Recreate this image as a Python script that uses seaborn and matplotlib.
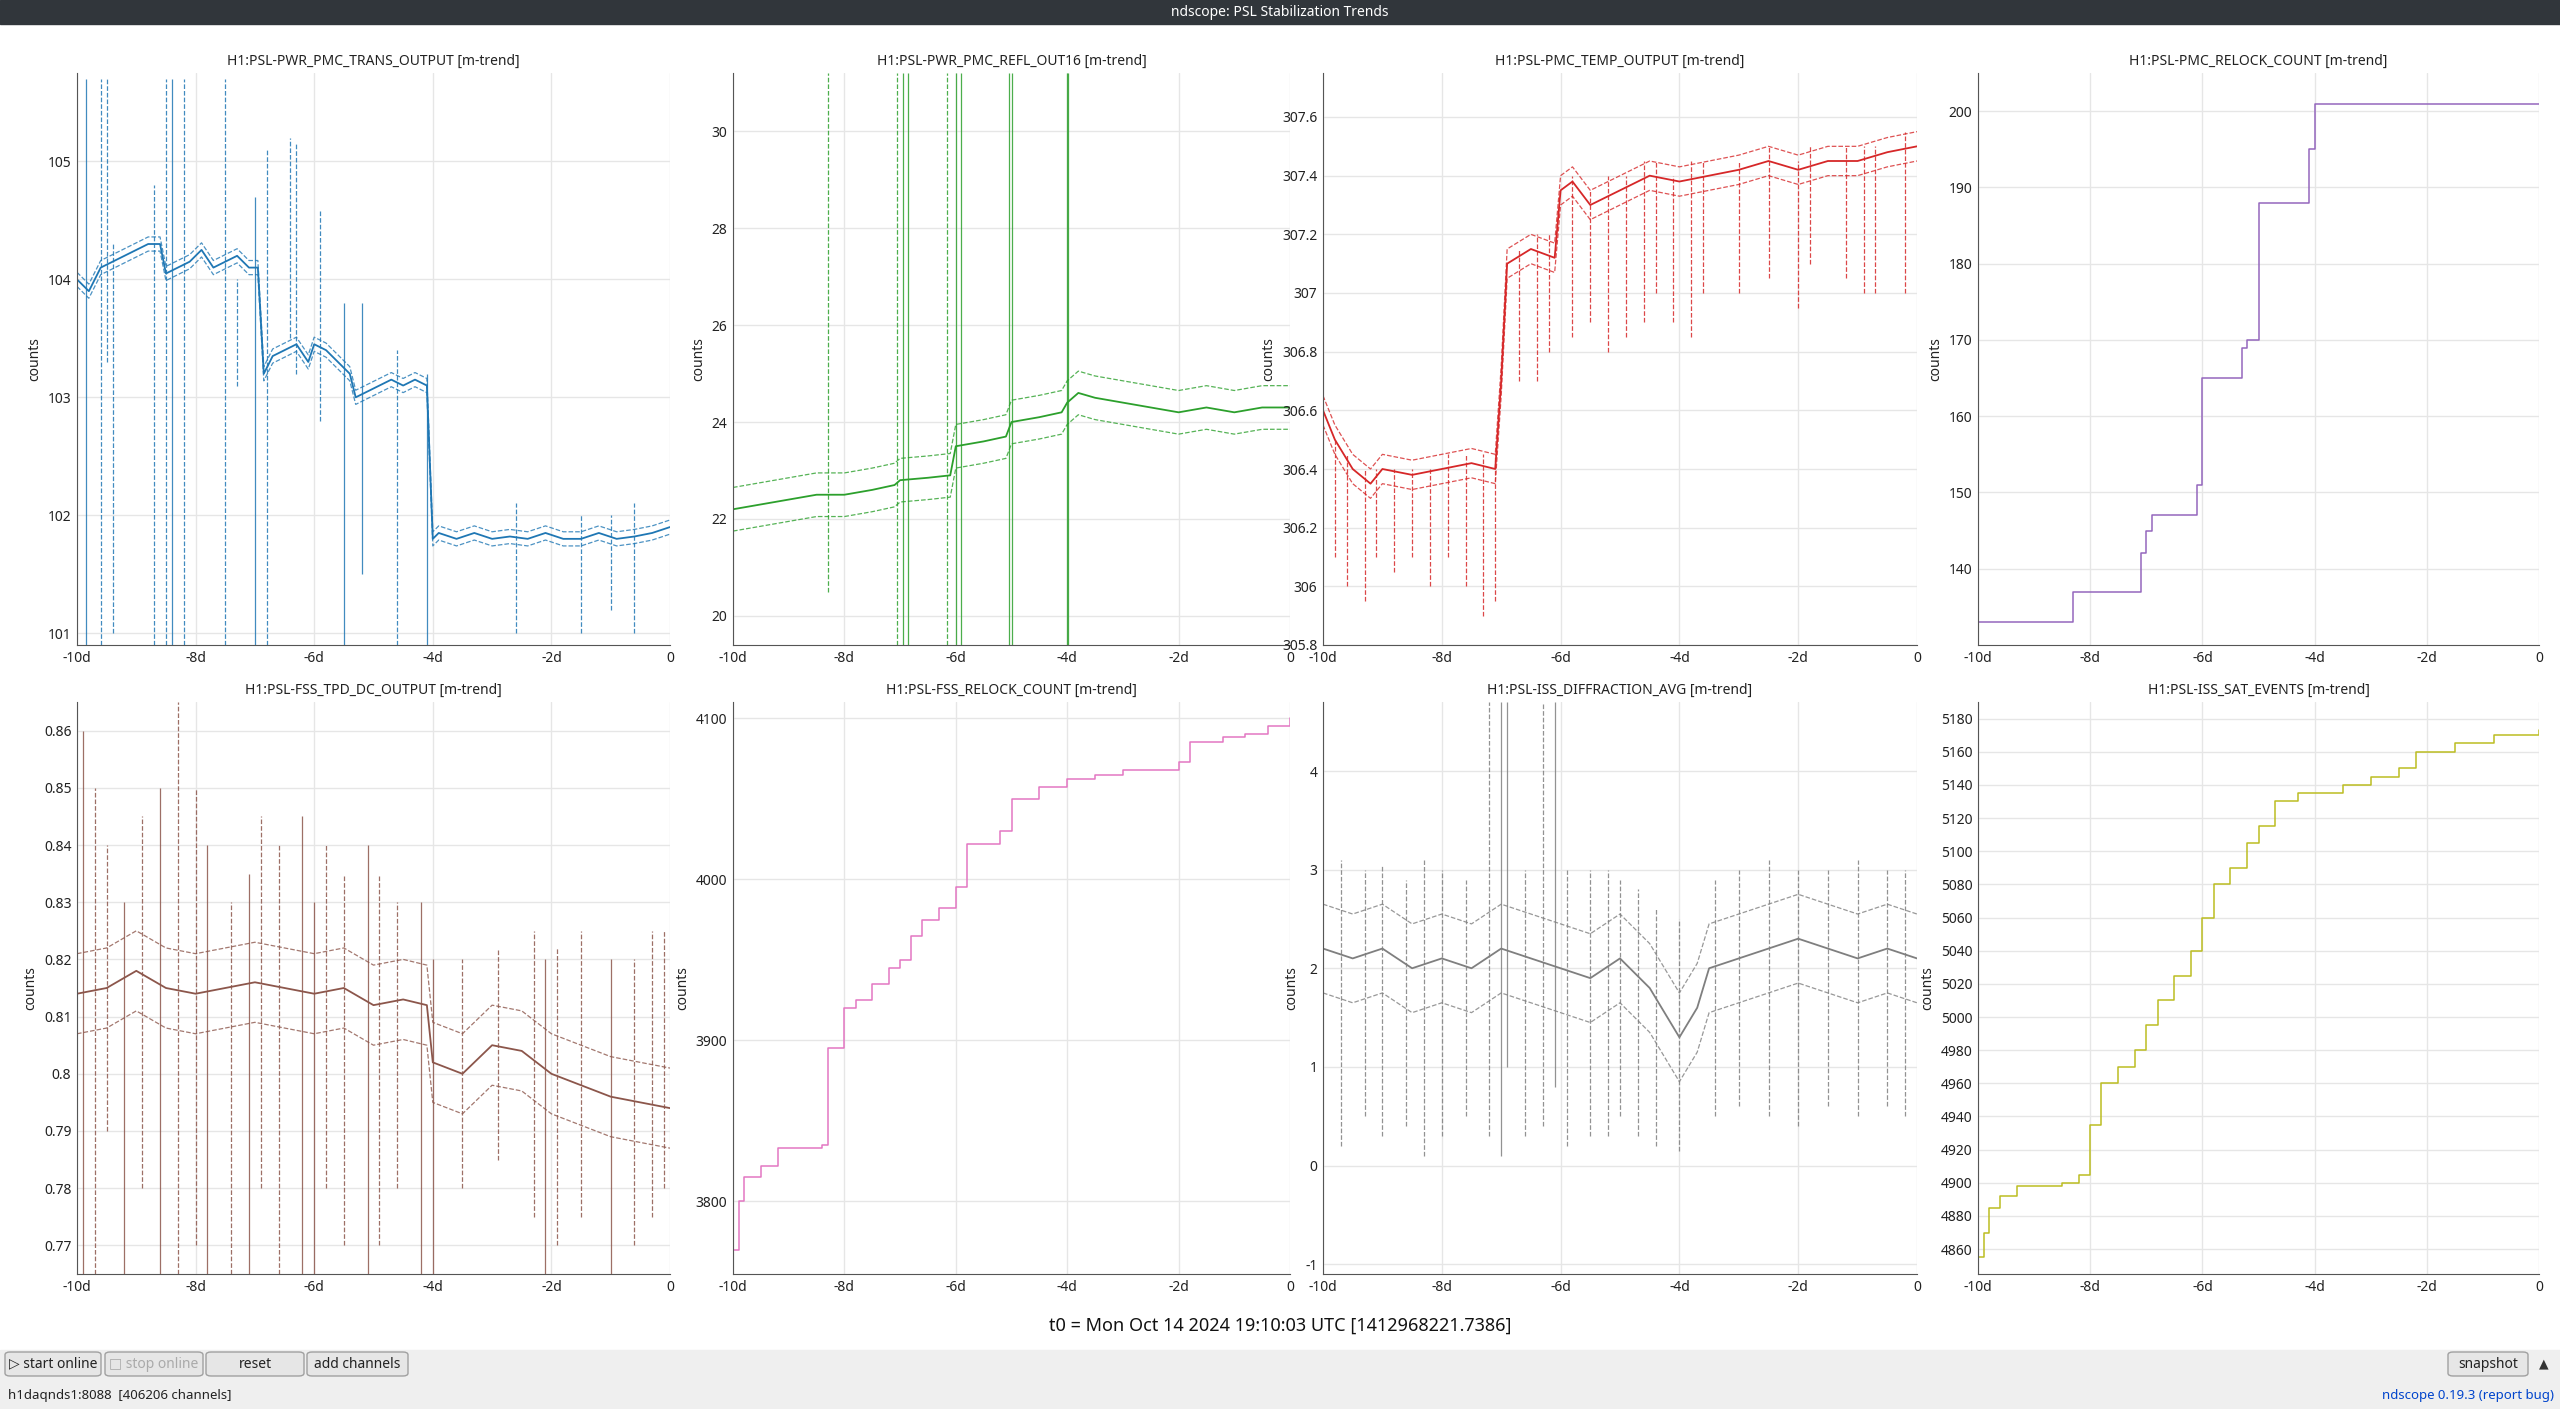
import numpy as np
import pandas as pd
import matplotlib
matplotlib.use("Agg")
import matplotlib.pyplot as plt
from matplotlib.patches import Rectangle, FancyBboxPatch
import seaborn as sns

sns.set_style("white")
plt.rcParams['font.family'] = ['Noto Sans', 'DejaVu Sans']

# ---------------- data ----------------
titles = ["H1:PSL-PWR_PMC_TRANS_OUTPUT [m-trend]", "H1:PSL-PWR_PMC_REFL_OUT16 [m-trend]",
          "H1:PSL-PMC_TEMP_OUTPUT [m-trend]", "H1:PSL-PMC_RELOCK_COUNT [m-trend]",
          "H1:PSL-FSS_TPD_DC_OUTPUT [m-trend]", "H1:PSL-FSS_RELOCK_COUNT [m-trend]",
          "H1:PSL-ISS_DIFFRACTION_AVG [m-trend]", "H1:PSL-ISS_SAT_EVENTS [m-trend]"]
colors = ["#1f77b4", "#2ca02c", "#d62728", "#9467bd", "#8c564b", "#e377c2", "#7f7f7f", "#bcbd22"]
xticks = [-10, -8, -6, -4, -2, 0]
xticklabels = ["-10d", "-8d", "-6d", "-4d", "-2d", "0"]

x1 = [-10,-9.8,-9.6,-9.4,-9.2,-9.0,-8.8,-8.6,-8.5,-8.3,-8.1,-7.9,-7.7,-7.5,-7.3,-7.1,-6.95,-6.85,-6.7,-6.5,
      -6.3,-6.1,-6.0,-5.8,-5.6,-5.4,-5.3,-5.1,-4.9,-4.7,-4.5,-4.3,-4.1,-4.0,-3.9,-3.6,-3.3,-3.0,-2.7,-2.4,
      -2.1,-1.8,-1.5,-1.2,-0.9,-0.6,-0.3,0]
mean1 = [104.0,103.9,104.1,104.15,104.2,104.25,104.3,104.3,104.05,104.1,104.15,104.25,104.1,104.15,104.2,104.1,104.1,103.2,103.35,103.4,
         103.45,103.3,103.45,103.4,103.3,103.2,103.0,103.05,103.1,103.15,103.1,103.15,103.1,101.8,101.85,101.8,101.85,101.8,101.82,101.8,
         101.85,101.8,101.8,101.85,101.8,101.82,101.85,101.9]
band1 = 0.06
spikes1 = [(-9.85,100.9,105.7,'-'),(-9.6,100.9,105.7,'--'),(-9.5,103.3,105.7,'--'),(-9.4,101.0,104.3,'--'),
           (-8.7,100.9,104.8,'--'),(-8.5,100.9,105.7,'--'),(-8.4,100.9,105.7,'-'),(-8.2,100.9,105.7,'--'),
           (-7.5,100.9,105.7,'--'),(-7.3,103.1,104.0,'--'),(-7.0,100.9,104.7,'-'),(-6.8,100.9,105.1,'--'),
           (-6.4,103.5,105.2,'--'),(-6.3,103.2,105.15,'--'),(-5.9,102.8,104.6,'--'),(-5.5,100.9,103.8,'-'),
           (-5.2,101.5,103.8,'-'),(-4.6,100.9,103.4,'--'),(-4.1,100.9,103.2,'-'),(-2.6,101.0,102.1,'--'),
           (-1.5,101.0,102.0,'--'),(-1.0,101.2,102.0,'--'),(-0.6,101.0,102.1,'--')]

x2 = [-10,-9.5,-9,-8.5,-8,-7.5,-7.1,-7.0,-6.5,-6.1,-6.0,-5.5,-5.1,-5.0,-4.5,-4.1,-4.0,-3.8,-3.5,-3,-2.5,-2,-1.5,-1,-0.5,0]
mean2 = [22.2,22.3,22.4,22.5,22.5,22.6,22.7,22.8,22.85,22.9,23.5,23.6,23.7,24.0,24.1,24.2,24.4,24.6,24.5,24.4,24.3,24.2,24.3,24.2,24.3,24.3]
band2 = 0.45
spikes2 = [(-6.95,19.4,31.2,'-'),(-6.85,19.4,31.2,'-'),(-6.0,19.4,31.2,'-'),(-5.9,19.4,31.2,'-'),
           (-5.05,19.4,31.2,'-'),(-5.0,19.4,31.2,'-'),(-4.0,19.4,31.2,'-'),(-3.98,19.4,31.2,'-'),
           (-8.3,20.5,31.2,'--'),(-7.05,19.4,31.2,'--'),(-6.15,19.4,31.2,'--')]

x3 = [-10,-9.8,-9.5,-9.2,-9,-8.5,-8,-7.5,-7.1,-7.0,-6.9,-6.5,-6.1,-6.0,-5.8,-5.5,-5.0,-4.5,-4.0,-3.5,-3.0,-2.5,-2.0,-1.5,-1.0,-0.5,0]
mean3 = [306.6,306.5,306.4,306.35,306.4,306.38,306.4,306.42,306.4,306.7,307.1,307.15,307.12,307.35,307.38,307.3,307.35,307.4,307.38,307.4,307.42,307.45,307.42,307.45,307.45,307.48,307.5]
band3 = 0.05
spikes3 = [(-9.8,306.1,306.5,'--'),(-9.6,306.0,306.45,'--'),(-9.3,305.95,306.4,'--'),(-9.1,306.1,306.4,'--'),
           (-8.8,306.05,306.4,'--'),(-8.5,306.1,306.4,'--'),(-8.2,306.0,306.4,'--'),(-7.9,306.1,306.45,'--'),
           (-7.6,306.0,306.45,'--'),(-7.3,305.9,306.45,'--'),(-7.1,305.95,306.45,'--'),(-6.7,306.7,307.15,'--'),
           (-6.4,306.7,307.2,'--'),(-6.2,306.8,307.2,'--'),(-5.8,306.85,307.4,'--'),(-5.5,306.9,307.35,'--'),
           (-5.2,306.8,307.4,'--'),(-4.9,306.85,307.4,'--'),(-4.6,306.9,307.45,'--'),(-4.4,307.0,307.45,'--'),
           (-4.1,306.9,307.4,'--'),(-3.8,306.85,307.45,'--'),(-3.6,307.0,307.45,'--'),(-3.0,307.0,307.45,'--'),
           (-2.5,307.05,307.5,'--'),(-2.0,306.95,307.45,'--'),(-1.8,307.1,307.5,'--'),(-1.2,307.05,307.5,'--'),
           (-0.9,307.0,307.5,'--'),(-0.7,307.0,307.5,'--'),(-0.2,307.0,307.55,'--')]

x4 = [-10,-8.3,-7.1,-7.0,-6.9,-6.2,-6.1,-6.0,-5.3,-5.2,-5.0,-4.2,-4.1,-4.0,0]
y4 = [133,137,142,145,147,147,151,165,169,170,188,188,195,201,201]

x5 = [-10,-9.5,-9,-8.5,-8,-7.5,-7,-6.5,-6,-5.5,-5,-4.5,-4.1,-4.0,-3.5,-3,-2.5,-2,-1.5,-1,-0.5,0]
mean5 = [0.814,0.815,0.818,0.815,0.814,0.815,0.816,0.815,0.814,0.815,0.812,0.813,0.812,0.802,0.80,0.805,0.804,0.80,0.798,0.796,0.795,0.794]
band5 = 0.007
spikes5 = [(-9.9,0.765,0.86,'-'),(-9.7,0.765,0.85,'--'),(-9.5,0.79,0.84,'--'),(-9.2,0.765,0.83,'-'),
           (-8.9,0.78,0.845,'--'),(-8.6,0.765,0.85,'-'),(-8.3,0.765,0.865,'--'),(-8.0,0.77,0.85,'--'),
           (-7.8,0.765,0.84,'-'),(-7.4,0.765,0.83,'--'),(-7.1,0.765,0.835,'-'),(-6.9,0.78,0.845,'--'),
           (-6.6,0.765,0.84,'--'),(-6.2,0.765,0.845,'-'),(-6.0,0.765,0.83,'-'),(-5.8,0.78,0.84,'--'),
           (-5.5,0.77,0.835,'--'),(-5.1,0.765,0.84,'-'),(-4.9,0.77,0.835,'--'),(-4.6,0.78,0.83,'--'),
           (-4.2,0.765,0.83,'-'),(-4.0,0.765,0.82,'-'),(-3.5,0.78,0.82,'--'),(-2.9,0.785,0.822,'--'),
           (-2.3,0.775,0.825,'--'),(-2.1,0.765,0.82,'-'),(-1.9,0.77,0.822,'--'),(-1.5,0.775,0.825,'--'),
           (-1.0,0.765,0.82,'-'),(-0.6,0.77,0.82,'--'),(-0.3,0.775,0.825,'--'),(-0.1,0.78,0.825,'--')]

x6 = [-10,-9.9,-9.8,-9.5,-9.2,-8.4,-8.3,-8.0,-7.8,-7.5,-7.2,-7.0,-6.8,-6.6,-6.3,-6.0,-5.8,-5.2,-5.0,-4.5,-4.0,-3.5,-3.0,-2.0,-1.8,-1.2,-0.8,-0.4,0]
y6 = [3770,3800,3815,3822,3833,3835,3895,3920,3925,3935,3945,3950,3965,3975,3982,3995,4022,4030,4050,4057,4062,4065,4068,4073,4085,4088,4090,4095,4100]

x7 = [-10,-9.5,-9,-8.5,-8,-7.5,-7,-6.5,-6,-5.5,-5,-4.5,-4.2,-4,-3.7,-3.5,-3,-2.5,-2,-1.5,-1,-0.5,0]
mean7 = [2.2,2.1,2.2,2.0,2.1,2.0,2.2,2.1,2.0,1.9,2.1,1.8,1.5,1.3,1.6,2.0,2.1,2.2,2.3,2.2,2.1,2.2,2.1]
band7 = 0.45
spikes7 = [(-9.7,0.2,3.1,'--'),(-9.3,0.5,3.0,'--'),(-9.0,0.3,3.05,'--'),(-8.6,0.4,2.9,'--'),(-8.3,0.1,3.1,'--'),
           (-8.0,0.3,3.0,'--'),(-7.6,0.5,2.9,'--'),(-7.2,0.3,4.7,'--'),(-7.0,0.1,4.7,'-'),(-6.9,1.0,4.7,'-'),
           (-6.6,0.3,3.0,'--'),(-6.3,0.4,4.7,'--'),(-6.1,0.8,4.7,'-'),(-5.9,0.2,3.0,'--'),(-5.5,0.3,3.0,'--'),
           (-5.2,0.3,3.0,'--'),(-5.0,0.5,2.9,'--'),(-4.7,0.3,2.8,'--'),(-4.4,0.2,2.6,'--'),(-4.0,0.15,2.5,'--'),
           (-3.4,0.5,2.9,'--'),(-3.0,0.6,3.0,'--'),(-2.5,0.5,3.1,'--'),(-2.0,0.4,3.0,'--'),(-1.5,0.6,3.0,'--'),
           (-1.0,0.5,3.1,'--'),(-0.5,0.6,3.0,'--'),(-0.2,0.5,3.0,'--')]

x8 = [-10,-9.9,-9.8,-9.6,-9.3,-8.5,-8.2,-8.0,-7.8,-7.5,-7.2,-7.0,-6.8,-6.5,-6.2,-6.0,-5.8,-5.5,-5.2,-5.0,-4.7,-4.3,-3.5,-3.0,-2.5,-2.2,-1.5,-0.8,0]
y8 = [4855,4870,4885,4892,4898,4900,4905,4935,4960,4970,4980,4995,5010,5025,5040,5060,5080,5090,5105,5115,5130,5135,5140,5145,5150,5160,5165,5170,5173]

ylims = [(100.9, 105.75), (19.4, 31.2), (305.8, 307.75), (130, 205),
         (0.765, 0.865), (3755, 4110), (-1.1, 4.7), (4845, 5190)]
yticks = [[101,102,103,104,105], [20,22,24,26,28,30],
          [305.8,306,306.2,306.4,306.6,306.8,307,307.2,307.4,307.6], [140,150,160,170,180,190,200],
          [0.77,0.78,0.79,0.8,0.81,0.82,0.83,0.84,0.85,0.86], [3800,3900,4000,4100],
          [-1,0,1,2,3,4], list(range(4860, 5181, 20))]

bands = [(x1, mean1, band1, spikes1), (x2, mean2, band2, spikes2), (x3, mean3, band3, spikes3), None,
         (x5, mean5, band5, spikes5), None, (x7, mean7, band7, spikes7), None]
steps = {3: (x4, y4), 5: (x6, y6), 7: (x8, y8)}

# ---------------- figure ----------------
W, H = 2560, 1409
fig = plt.figure(figsize=(W/100, H/100), dpi=100)
fig.patch.set_facecolor("white")

fig.patches.append(Rectangle((0, 1-24/H), 1, 24/H, transform=fig.transFigure, color="#31363b", zorder=0))
fig.text(0.5, 1-12/H, "ndscope: PSL Stabilization Trends", color="white", fontsize=10, fontweight="bold",
         ha="center", va="center")
fig.patches.append(Rectangle((0, 0), 1, 59/H, transform=fig.transFigure, color="#efefef", zorder=0))
for (x0, x1b, lab, col) in [(5, 101, "▷ start online", "#222"), (105, 203, "□ stop online", "#aaa"),
                            (206, 304, "reset", "#222"), (307, 408, "add channels", "#222"),
                            (2448, 2528, "snapshot", "#222")]:
    fig.patches.append(FancyBboxPatch((x0/W, 33/H), (x1b-x0)/W, 24/H, boxstyle="round,pad=0,rounding_size=0.002",
                                      transform=fig.transFigure, facecolor="#e6e6e6", edgecolor="#a0a0a0", lw=1))
    fig.text((x0+x1b)/2/W, 45/H, lab, ha="center", va="center", fontsize=10, color=col)
fig.text(2544/W, 45/H, "▲", ha="center", va="center", fontsize=9, color="#333")
fig.text(8/W, 13/H, "h1daqnds1:8088  [406206 channels]", ha="left", va="center", fontsize=9.5, color="#222")
fig.text(2554/W, 13/H, "ndscope 0.19.3 (report bug)", ha="right", va="center", fontsize=9.5, color="#0044cc")
fig.text(0.5, 1-1326/H, "t0 = Mon Oct 14 2024 19:10:03 UTC [1412968221.7386]", ha="center", va="center",
         fontsize=13, color="#111")

cols = [(77, 670), (733, 1290), (1323, 1917), (1978, 2539)]
rows = [(73, 645), (702, 1274)]

for i in range(8):
    r, c = divmod(i, 4)
    (l, rr), (t, b) = cols[c], rows[r]
    ax = fig.add_axes([l/W, 1-b/H, (rr-l)/W, (b-t)/H])
    color = colors[i]
    if bands[i] is not None:
        xs, ms, bw, sp = bands[i]
        df = pd.DataFrame({"t": xs, "mean": ms})
        for (xv, lo, hi, ls) in sp:
            ax.vlines(xv, lo, hi, colors=color, linestyles=ls, lw=0.9, alpha=0.85)
        sns.lineplot(data=df, x="t", y="mean", ax=ax, color=color, lw=1.3)
        ax.plot(df["t"], df["mean"] + bw, color=color, lw=0.9, ls="--", alpha=0.8)
        ax.plot(df["t"], df["mean"] - bw, color=color, lw=0.9, ls="--", alpha=0.8)
    else:
        xs, ys = steps[i]
        sns.lineplot(x=xs, y=ys, ax=ax, color=color, lw=1.1, drawstyle="steps-post")
    ax.set_xlim(-10, 0)
    ax.set_ylim(*ylims[i])
    ax.set_xticks(xticks)
    ax.set_xticklabels(xticklabels)
    ax.set_yticks(yticks[i])
    ax.set_yticklabels([f"{v:g}" for v in yticks[i]])
    ax.grid(True, color="#e6e6e6", lw=1)
    ax.set_axisbelow(True)
    for s in ["top", "right"]:
        ax.spines[s].set_visible(False)
    for s in ["left", "bottom"]:
        ax.spines[s].set_color("#555")
    ax.tick_params(labelsize=10, colors="#222", length=0, pad=4)
    ax.set_ylabel("counts", fontsize=10, color="#222")
    ax.set_xlabel("")
    ax.set_title(titles[i], fontsize=10, color="#222", pad=6)

fig.savefig("out.png", dpi=100)
